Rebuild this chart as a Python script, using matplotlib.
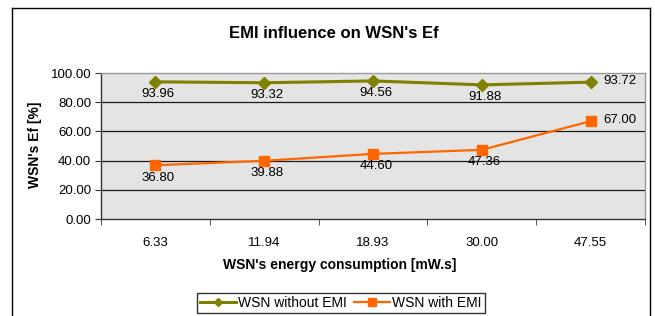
import matplotlib
matplotlib.use('Agg')
import matplotlib.pyplot as plt
from matplotlib.lines import Line2D

plt.rcParams['font.family'] = ['Liberation Sans', 'DejaVu Sans']

# chart data
energy_labels = ['6.33', '11.94', '18.93', '30.00', '47.55']
ef_without_emi = [93.96, 93.32, 94.56, 91.88, 93.72]
ef_with_emi = [36.80, 39.88, 44.60, 47.36, 67.00]
y_ticks = [0, 20, 40, 60, 80, 100]

olive = '#808000'
orange = '#FF6600'

fig = plt.figure(figsize=(6.55, 3.16), dpi=100)
ax = fig.add_axes([101 / 655, 1 - 219 / 316, 544 / 655, 146 / 316])

# outer chart frame (bottom edge is cut off in the reference)
fig.add_artist(Line2D([12 / 655, 12 / 655], [0, 1 - 8 / 316], color='black', lw=1.0))
fig.add_artist(Line2D([12 / 655, 650 / 655], [1 - 8 / 316, 1 - 8 / 316], color='black', lw=1.0))
fig.add_artist(Line2D([650 / 655, 650 / 655], [0, 1 - 8 / 316], color='black', lw=1.0))

x = list(range(len(energy_labels)))
ax.set_facecolor('#e4e4e4')
for v in y_ticks[1:-1]:
    ax.axhline(v, color='#1a1a1a', lw=0.9, zorder=1)

ax.plot(x, ef_without_emi, color=olive, lw=2.2, marker='D', markersize=6,
        label='WSN without EMI', zorder=3)
ax.plot(x, ef_with_emi, color=orange, lw=1.6, marker='s', markersize=7,
        label='WSN with EMI', zorder=3)

# data labels: below the points, the last one on the right
for series in (ef_without_emi, ef_with_emi):
    for i, v in enumerate(series):
        if i == len(series) - 1:
            ax.annotate('%.2f' % v, (i, v), xytext=(9, 1), textcoords='offset points',
                        ha='left', va='center', fontsize=9.5)
        else:
            ax.annotate('%.2f' % v, (i, v), xytext=(2, -9), textcoords='offset points',
                        ha='center', va='center', fontsize=9.5)

ax.set_xlim(-0.5, len(x) - 0.5)
ax.set_ylim(0, 100)
ax.set_yticks(y_ticks)
ax.set_yticklabels(['%.2f' % v for v in y_ticks], fontsize=9.5)
ax.set_xticks(x)
ax.set_xticklabels(energy_labels, fontsize=9.5)
ax.set_xticks([i - 0.5 for i in range(len(x) + 1)], minor=True)
ax.tick_params(axis='x', which='major', length=0, pad=13)
ax.tick_params(axis='x', which='minor', length=4, direction='out', color='#333333')
ax.tick_params(axis='y', length=4, direction='out', color='#333333', pad=3)

for side in ('left', 'bottom'):
    ax.spines[side].set_color('#333333')
    ax.spines[side].set_linewidth(1.0)
for side in ('top', 'right'):
    ax.spines[side].set_color('#999999')
    ax.spines[side].set_linewidth(1.0)

fig.text(340 / 655, 1 - 265 / 316, "WSN's energy consumption [mW.s]", ha='center', va='center',
         fontsize=10, fontweight='bold')
fig.text(35 / 655, 1 - 145 / 316, "WSN's Ef [%]", ha='center', va='center', rotation=90,
         fontsize=10, fontweight='bold')
fig.text(334 / 655, 1 - 34 / 316, "EMI influence on WSN's Ef", ha='center', va='center',
         fontsize=12, fontweight='bold')

leg = fig.legend(loc='center', bbox_to_anchor=(341 / 655, 1 - 303 / 316), ncol=2,
                 fontsize=10, frameon=True, fancybox=False, handlelength=2.6,
                 handletextpad=0.15, columnspacing=0.5, borderpad=0.25,
                 borderaxespad=0, markerscale=0.75)
leg.get_frame().set_edgecolor('black')
leg.get_frame().set_linewidth(1.0)

fig.savefig('out.png', dpi=100)
